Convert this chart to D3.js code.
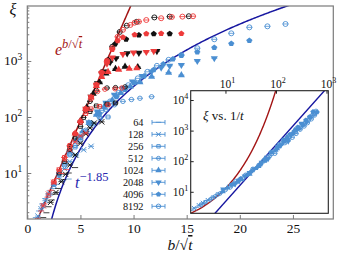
<!DOCTYPE html>
<html><head><meta charset="utf-8">
<script src="https://cdn.jsdelivr.net/npm/d3@7"></script>
<style>
body{margin:0;background:#fff}
svg{display:block}
text{font-family:"Liberation Serif","Times New Roman",serif}
</style>
</head><body>
<svg id="c" width="341" height="256"></svg>
<script>
// ---------- data ----------
const sizes = [64, 128, 256, 512, 1024, 2048, 4096, 8192];
const xTicks = [0, 5, 10, 15, 20, 25];
const yTicks = [10, 100, 1000];
const insetXTicks = [10, 100, 1000];
const insetYTicks = [10, 100, 1000, 10000];

// [b/sqrt(t), xi] per system size (black set)
const blackPts = [
 [[1.5,1.6],[1.8,1.95],[2.0,2.5],[2.3,3.3],[2.6,4.2],[2.9,5.3],[3.4,7.6],[3.9,10],[4.5,12.5]],
 [[2.2,3.0],[2.7,4.5],[3.2,7],[3.6,9.5],[4.0,13.9],[4.5,21],[5.0,34],[5.5,50],[5.9,64],[6.3,78],[7.0,82]],
 [[3.0,10],[3.5,16],[4.0,26],[4.5,42],[5.0,68],[5.3,98],[5.6,140],[5.9,125],[6.5,158],[7.5,170],[8.3,178]],
 [[4.0,30],[4.5,50],[5.0,80],[5.5,130],[5.9,190],[6.5,300],[7.5,330],[8.3,335],[9.2,345]],
 [[5.0,85],[5.6,150],[6.2,260],[6.8,420],[7.4,600],[8.3,720],[9.2,790],[10.4,780]],
 [[6.0,230],[6.6,400],[7.2,650],[7.8,950],[8.35,1120],[9.4,1370],[10.5,1400],[12.2,1500]],
 [[7.0,630],[7.6,1050],[8.26,2000],[9.3,2440],[10.5,2900],[11.9,3050],[13.4,3070]],
 [[8.0,1800],[8.7,3300],[9.36,4270],[10.3,5000],[11.96,6000],[13.4,6200],[15.2,6300]]
];
// red set
const redPts = [
 [[1.0,1.55],[1.3,2.1],[1.6,2.8],[1.9,3.7],[2.2,4.9],[2.5,6.4],[2.8,8.0],[3.2,9.8],[3.7,11.5]],
 [[1.5,2.6],[2.0,4.2],[2.5,6.8],[3.0,11],[3.5,17],[4.0,26],[4.5,36],[5.0,46],[5.5,52]],
 [[2.5,7],[3.0,11.5],[3.5,19],[4.0,31],[4.5,50],[5.0,80],[5.5,115],[6.0,140],[6.8,155],[7.6,165]],
 [[3.5,19],[4.0,31],[4.5,51],[5.0,84],[5.5,135],[6.0,210],[6.6,285],[7.3,313],[8.26,318],[8.9,330]],
 [[4.5,51],[5.0,85],[5.5,140],[6.0,225],[6.5,360],[7.0,520],[7.6,640],[8.6,700],[9.6,730],[10.3,740]],
 [[5.5,140],[6.0,230],[6.5,375],[7.0,600],[7.5,900],[8.0,1150],[9.0,1330],[10.0,1410],[11.2,1450],[11.9,1500]],
 [[6.5,380],[7.0,620],[7.5,1000],[8.0,1600],[8.5,2300],[9.0,2650],[10.1,2950],[11.2,3070],[12.6,3100],[14.5,3080]],
 [[7.0,620],[7.5,1020],[8.0,1700],[8.5,2700],[9.0,3600],[9.7,4400],[10.1,4830],[10.5,5040],[11.2,5390],[12.6,5800],[13.6,6100],[14.6,6200],[15.6,6300]]
];
// blue set
const bluePts = [
 [[0.8,1.6],[1.1,2.1],[1.4,2.8],[1.7,3.5],[2.0,4.3],[2.4,5.3],[2.8,6.3],[3.3,7.2],[3.9,7.8]],
 [[1.0,1.7],[1.3,2.3],[1.7,3.2],[2.1,4.4],[2.5,6],[3.0,8.5],[3.5,12],[4.0,16],[4.6,21],[5.3,26],[6.0,30]],
 [[1.5,2.6],[2.0,4],[2.5,6.2],[3.0,9.5],[3.5,14],[4.0,21],[4.5,29],[5.0,40],[5.6,55],[6.2,75],[6.85,95],[7.6,100]],
 [[3.0,10],[3.5,15],[4.0,22],[4.5,31],[5.0,43],[5.5,58],[6.0,78],[6.7,105],[7.4,135],[8.2,165],[9.0,190],[9.8,205],[10.6,216],[11.7,230]],
 [[4.0,25],[4.6,38],[5.2,55],[5.8,78],[6.5,110],[7.2,150],[8.0,200],[8.8,270],[9.7,350],[10.6,420],[11.7,525],[13.3,620],[14.5,560]],
 [[5.0,45],[5.8,80],[6.6,125],[7.4,180],[8.2,250],[9.0,330],[9.9,430],[10.8,540],[11.7,650],[12.6,760],[13.4,820],[14.5,850],[16.0,1000],[17.6,1120]],
 [[6.0,75],[6.8,115],[7.6,165],[8.4,230],[9.2,310],[10.1,410],[11.0,540],[11.9,700],[12.8,880],[13.7,1080],[14.5,1250],[16.0,1450],[17.6,1730],[19.2,2040],[20.9,2310]],
 [[7.0,130],[7.8,190],[8.6,270],[9.5,370],[10.4,490],[11.3,640],[12.2,820],[13.3,1050],[14.5,1280],[16.0,1690],[17.6,2440],[19.2,3120],[20.9,3990],[22.6,4160],[24.3,4580]]
];
// inset: [1/t, xi, size index]
const insetPts = [
 [2.2,2.5,0],[2.4,2.9,1],[2.7,3.1,0],[3.0,3.6,1],[3.3,3.8,2],[3.6,4.3,1],[4.0,4.6,2],[4.5,5.3,1],
 [5.0,5.6,3],[5.6,6.5,2],[6.2,7.0,3],[7.0,8.2,2],[7.8,8.8,3],[8.8,10.3,4],[10,11.5,3],[11,13.5,4],
 [12.5,14,3],[14,17,4],[15.5,18,5],[17,21,4],[19,24,5],[21,25,4],[24,32,5],[27,36,6],[30,42,5],
 [33,47,6],[37,56,5],[41,60,6],[46,74,7],[50,78,6],[56,100,7],[62,105,6],[68,135,7],[75,150,2],
 [82,175,7],[90,210,3],[98,230,4],[108,290,5],[118,310,6],[130,380,7],[142,430,4],[155,500,5],
 [170,520,6],[185,640,7],[200,700,5],[220,830,6],[240,900,7],[260,1100,5],[285,1150,6],[310,1350,7],
 [340,1500,6],[370,1700,7],[400,1950,6],[440,2200,7],[480,2700,6],[520,3100,7],[560,3500,7],[600,3800,7],
 [9,12,5],[13,17,6],[16,22,7],[20,27,6],[25,35,7],[30,38,4],[35,55,7],[45,68,4],[52,90,5],[60,120,4],
 [70,120,5],[80,200,6],[95,180,7],[105,260,4],[115,360,3],[125,330,5],[140,500,6],[150,400,7],
 [165,620,4],[175,450,5],[190,760,6],[210,600,7],[230,1000,4],[250,800,7],[270,1300,6],[300,1100,7],
 [320,1700,5],[360,1400,7],[390,2200,6],[420,1800,7],[460,2800,6],[500,2400,7],[540,4150,6],[580,3200,7],
 [620,4300,7],[650,4000,6]
];
// fitted curves: xi = A exp(b/sqrt t), xi = C t^-1.85
const redA = 0.57, blueC = 0.07, blueExp = 3.7;
const inRedA = 0.416, inRedB = 1.085, inBlueC = 0.0676, inBlueExp = 1.85;

// ---------- style ----------
const FONT = "Liberation Serif";
const colBlack = "#111111", colRed = "#ee3b3b", colBlue = "#4b8fd2";
const lineRed = "#a31515", lineBlue = "#1616a0";
const frameGray = "#7a7a7a";

const svg = d3.select("#c");
const x = d3.scaleLinear().domain([0, 28.8]).range([27.3, 333.3]);
const y = d3.scaleLog().domain([1.51, 9590]).range([219, 6]);

const defs = svg.append("defs");
defs.append("clipPath").attr("id","mainclip").append("rect")
  .attr("x", x.range()[0]).attr("y", y.range()[1])
  .attr("width", x.range()[1]-x.range()[0]).attr("height", y.range()[0]-y.range()[1]);

const pentagon = {draw(ctx, size){
  const r = Math.sqrt(size/2.378);
  for (let i=0;i<5;i++){
    const a = -Math.PI/2 + i*2*Math.PI/5;
    const px = r*Math.cos(a), py = r*Math.sin(a);
    if(i===0) ctx.moveTo(px,py); else ctx.lineTo(px,py);
  }
  ctx.closePath();
}};

function marker(g, k, color, sc){
  sc = sc || 1;
  g.append("line").attr("x1",-3*sc).attr("x2",3*sc).attr("y1",0).attr("y2",0)
    .attr("stroke",color).attr("stroke-width",0.8);
  switch(k){
    case 0: g.append("path").attr("d", d3.symbol(d3.symbolPlus, 26*sc*sc)()).attr("fill",color); break;
    case 1: g.append("path").attr("d", d3.symbol(d3.symbolX, 20*sc*sc)()).attr("fill","none").attr("stroke",color).attr("stroke-width",1); break;
    case 2: g.append("path").attr("d", d3.symbol(d3.symbolSquare2, 18*sc*sc)()).attr("fill","none").attr("stroke",color).attr("stroke-width",0.9); break;
    case 3: g.append("circle").attr("r",2.2*sc).attr("fill","none").attr("stroke",color).attr("stroke-width",0.9); break;
    case 4: g.append("path").attr("d", d3.symbol(d3.symbolTriangle, 22*sc*sc)()).attr("fill",color); break;
    case 5: g.append("path").attr("d", d3.symbol(d3.symbolTriangle, 22*sc*sc)()).attr("transform","rotate(180)").attr("fill",color); break;
    case 6: g.append("path").attr("d", d3.symbol(pentagon, 22*sc*sc)()).attr("fill",color); break;
    case 7: g.append("circle").attr("r",2.5*sc).attr("fill","none").attr("stroke",color).attr("stroke-width",0.9); break;
  }
}

function powLabel(parent, xx, yy, v, fs, anchor){
  const t = parent.append("text").attr("x", xx).attr("y", yy)
    .attr("text-anchor", anchor).attr("font-size", fs).attr("font-family", FONT).attr("fill","#111");
  t.append("tspan").text("10");
  t.append("tspan").attr("dy", -fs*0.42).attr("font-size", fs*0.7).text(Math.round(Math.log10(v)));
  return t;
}

// ---------- main axes ----------
const plot = svg.append("g").attr("clip-path","url(#mainclip)");

const minorY = [];
[1,10,100,1000].forEach(d => { for(let m=2;m<=9;m++){ const v=d*m; if(v>y.domain()[0] && v<y.domain()[1]) minorY.push(v);} });

const axB = svg.append("g").attr("transform",`translate(0,${y.range()[0]})`)
  .call(d3.axisBottom(x).tickValues(xTicks).tickSize(-4).tickPadding(4).tickFormat(d3.format("d")));
const axL = svg.append("g").attr("transform",`translate(${x.range()[0]},0)`)
  .call(d3.axisLeft(y).tickValues(yTicks).tickSize(-4).tickFormat(()=>""));
const axLm = svg.append("g").attr("transform",`translate(${x.range()[0]},0)`)
  .call(d3.axisLeft(y).tickValues(minorY).tickSize(-2).tickFormat(()=>""));
[axB, axL, axLm].forEach(a=>{
  a.attr("font-family", FONT);
  a.select(".domain").remove();
  a.selectAll("line").attr("stroke",frameGray);
  a.selectAll("text").attr("font-size",13.5).attr("fill","#111");
});

yTicks.forEach(v=> powLabel(svg, x.range()[0]-5, y(v)+4.5, v, 13.5, "end"));

// curves
const redLine = d3.line().x(d=>x(d)).y(d=>y(redA*Math.exp(d)));
plot.append("path").datum(d3.range(0.5, 10.3, 0.05)).attr("d", redLine)
  .attr("fill","none").attr("stroke",lineRed).attr("stroke-width",1.5);
const blueLine = d3.line().x(d=>x(d)).y(d=>y(blueC*Math.pow(d,blueExp)));
plot.append("path").datum(d3.range(2.0, 26, 0.1)).attr("d", blueLine)
  .attr("fill","none").attr("stroke",lineBlue).attr("stroke-width",1.5);

// points
function drawSet(sets, color){
  sets.forEach((pts,k)=>{
    pts.forEach(p=>{
      const g = plot.append("g").attr("transform",`translate(${x(p[0])},${y(p[1])})`);
      marker(g, k, color, 1.0);
    });
  });
}
drawSet(bluePts, colBlue);
drawSet(blackPts, colBlack);
drawSet(redPts, colRed);

// frame
svg.append("rect").attr("x",x.range()[0]).attr("y",y.range()[1])
  .attr("width",x.range()[1]-x.range()[0]).attr("height",y.range()[0]-y.range()[1])
  .attr("fill","none").attr("stroke",frameGray).attr("stroke-width",1.2);

// labels
svg.append("text").attr("x",13).attr("y",15).attr("text-anchor","middle").attr("font-family",FONT)
  .attr("font-size",16).attr("font-style","italic").attr("fill","#111").text("ξ");
const xl = svg.append("text").attr("x",180).attr("y",250).attr("text-anchor","middle")
  .attr("font-size",15.5).attr("font-family",FONT).attr("fill","#111");
xl.append("tspan").attr("font-style","italic").text("b");
xl.append("tspan").text("/√");
xl.append("tspan").attr("font-style","italic").style("text-decoration","overline").text("t");

const eL = svg.append("text").attr("x",55).attr("y",55).attr("font-size",16).attr("font-family",FONT).attr("fill",lineRed);
eL.append("tspan").attr("font-style","italic").text("e");
eL.append("tspan").attr("dy",-7).attr("font-size",12.5).attr("font-style","italic").text("b");
eL.append("tspan").attr("font-size",12.5).text("/√");
eL.append("tspan").attr("font-size",12.5).attr("font-style","italic").style("text-decoration","overline").text("t");

const tL = svg.append("text").attr("x",75).attr("y",188).attr("font-size",16).attr("font-family",FONT).attr("fill","#2828b0");
tL.append("tspan").attr("font-style","italic").text("t");
tL.append("tspan").attr("dy",-7).attr("font-size",12.5).text("−1.85");

// legend
const leg = svg.append("g");
sizes.forEach((s,i)=>{
  const yy = 122.3 + i*12;
  leg.append("text").attr("x",143.5).attr("y",yy+3.6).attr("text-anchor","end").attr("font-family",FONT)
    .attr("font-size",10.3).attr("fill","#111").text(s);
  const g = leg.append("g").attr("transform",`translate(158.5,${yy})`);
  g.append("line").attr("x1",-6.5).attr("x2",6.5).attr("stroke",colBlue).attr("stroke-width",0.9);
  [-6.5,6.5].forEach(cx=>g.append("line").attr("x1",cx).attr("x2",cx).attr("y1",-2.3).attr("y2",2.3).attr("stroke",colBlue).attr("stroke-width",0.9));
  marker(g, i, colBlue, 0.9);
});

// ---------- inset ----------
const ix = d3.scaleLog().domain([2.05, 1086]).range([190.7, 328.3]);
const iy = d3.scaleLog().domain([1.98, 20140]).range([213.3, 90.7]);
defs.append("clipPath").attr("id","inclip").append("rect")
  .attr("x", ix.range()[0]).attr("y", iy.range()[1])
  .attr("width", ix.range()[1]-ix.range()[0]).attr("height", iy.range()[0]-iy.range()[1]);
svg.append("rect").attr("x",ix.range()[0]).attr("y",iy.range()[1])
  .attr("width",ix.range()[1]-ix.range()[0]).attr("height",iy.range()[0]-iy.range()[1])
  .attr("fill","#fff");
const inset = svg.append("g").attr("clip-path","url(#inclip)");

const inRed = d3.line().x(d=>ix(d)).y(d=>iy(inRedA*Math.exp(inRedB*Math.sqrt(d))));
inset.append("path").datum(d3.range(2.0, 130, 0.5)).attr("d", inRed)
  .attr("fill","none").attr("stroke",lineRed).attr("stroke-width",1.4);
const inBlue = d3.line().x(d=>ix(d)).y(d=>iy(inBlueC*Math.pow(d,inBlueExp)));
inset.append("path").datum([4, 1200]).attr("d", inBlue)
  .attr("fill","none").attr("stroke",lineBlue).attr("stroke-width",1.4);

insetPts.forEach(p=>{
  const g = inset.append("g").attr("transform",`translate(${ix(p[0])},${iy(p[1])})`);
  marker(g, p[2], colBlue, 0.85);
});

const iaL = svg.append("g").attr("transform",`translate(${ix.range()[0]},0)`)
  .call(d3.axisLeft(iy).tickValues(insetYTicks).tickSize(-3).tickFormat(()=>""));
const iaT = svg.append("g").attr("transform",`translate(0,${iy.range()[1]})`)
  .call(d3.axisTop(ix).tickValues(insetXTicks).tickSize(-3).tickFormat(()=>""));
[iaL, iaT].forEach(a=>{ a.select(".domain").remove(); a.selectAll("line").attr("stroke","#222"); });

insetYTicks.forEach(v=> powLabel(svg, ix.range()[0]-2.5, iy(v)+4, v, 11.5, "end"));
insetXTicks.forEach(v=> powLabel(svg, ix(v)+2, iy.range()[1]-3, v, 11.5, "middle"));

svg.append("rect").attr("x",ix.range()[0]).attr("y",iy.range()[1])
  .attr("width",ix.range()[1]-ix.range()[0]).attr("height",iy.range()[0]-iy.range()[1])
  .attr("fill","none").attr("stroke","#222").attr("stroke-width",1.1);

const vs = svg.append("text").attr("x",203).attr("y",120).attr("font-size",13).attr("font-family",FONT).attr("fill","#111");
vs.append("tspan").attr("font-style","italic").text("ξ");
vs.append("tspan").text(" vs. 1/");
vs.append("tspan").attr("font-style","italic").text("t");
</script>
</body></html>
